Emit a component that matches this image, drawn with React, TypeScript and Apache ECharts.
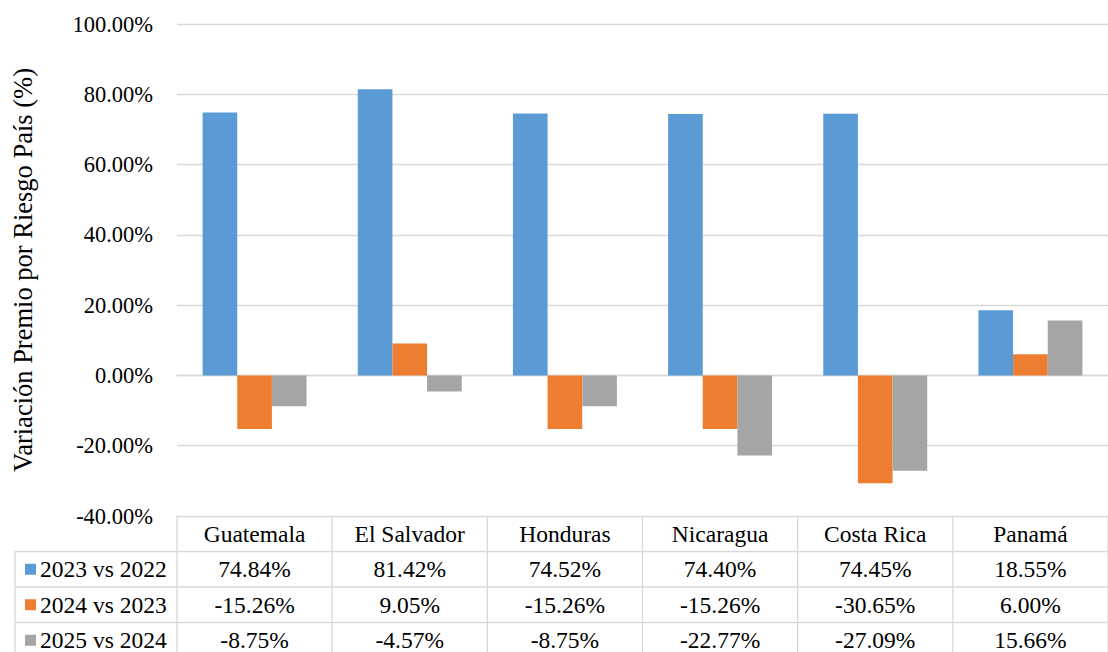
import React, { useEffect, useRef } from "react";
import * as echarts from "echarts";

const categories = ["Guatemala", "El Salvador", "Honduras", "Nicaragua", "Costa Rica", "Panamá"];
const seriesNames = ["2023 vs 2022", "2024 vs 2023", "2025 vs 2024"];
const values2023 = [74.84, 81.42, 74.52, 74.4, 74.45, 18.55];
const values2024 = [-15.26, 9.05, -15.26, -15.26, -30.65, 6.0];
const values2025 = [-8.75, -4.57, -8.75, -22.77, -27.09, 15.66];
const yMin = -40;
const yMax = 100;
const yStep = 20;
const colors = ["#5B9BD5", "#ED7D31", "#A5A5A5"];

const FONT = "Liberation Serif";
const LINE = "#D9D9D9";

export default function App() {
  const ref = useRef<HTMLDivElement>(null);
  useEffect(() => {
    if (!ref.current) return;
    const chart = echarts.init(ref.current, undefined, { renderer: "svg" });
    const allSeries = [values2023, values2024, values2025];
    chart.setOption({
      animation: false,
      textStyle: { fontFamily: FONT },
      grid: { left: 177, top: 24, width: 942, height: 492, containLabel: false },
      xAxis: {
        type: "category",
        data: categories,
        axisLine: { show: true, onZero: true, lineStyle: { color: LINE, width: 1.3 } },
        axisTick: { show: false },
        axisLabel: { show: false },
      },
      yAxis: {
        type: "value",
        min: yMin,
        max: yMax,
        interval: yStep,
        name: "Variación Premio por Riesgo País (%)",
        nameLocation: "middle",
        nameGap: 141,
        nameTextStyle: { fontFamily: FONT, fontSize: 26.5, color: "#000" },
        axisLine: { show: false },
        axisTick: { show: false },
        axisLabel: {
          margin: 24,
          fontFamily: FONT,
          fontSize: 22.5,
          color: "#000",
          formatter: (v: number) => v.toFixed(2) + "%",
        },
        splitLine: { lineStyle: { color: LINE, width: 1.3 } },
      },
      series: allSeries.map((d, i) => ({
        type: "bar",
        name: seriesNames[i],
        data: d,
        barGap: "0%",
        barCategoryGap: "33%",
        itemStyle: { color: colors[i] },
      })),
    });

    // Data table built from the axis scale positions
    const centers = categories.map((_, i) => chart.convertToPixel({ xAxisIndex: 0 }, i) as number);
    const band = centers.length > 1 ? centers[1] - centers[0] : 157;
    const tableTop = chart.convertToPixel({ yAxisIndex: 0 }, yMin) as number;
    const plotLeft = centers[0] - band / 2;
    const plotRight = centers[centers.length - 1] + band / 2;
    const rowH = 35.5;
    const tableLeft = 15;
    const bottom = 700;
    const g: any[] = [];
    const line = (x1: number, y1: number, x2: number, y2: number) =>
      g.push({ type: "line", shape: { x1, y1, x2, y2 }, style: { stroke: LINE, lineWidth: 1.3 } });
    for (let r = 1; r <= 4; r++) line(tableLeft, tableTop + rowH * r, plotRight, tableTop + rowH * r);
    line(tableLeft, tableTop + rowH, tableLeft, bottom);
    line(plotLeft, tableTop, plotLeft, bottom);
    centers.forEach((c) => line(c + band / 2, tableTop, c + band / 2, bottom));
    const txt = (x: number, y: number, s: string, align: string) =>
      g.push({
        type: "text",
        x,
        y,
        style: { text: s, fontFamily: FONT, fontSize: 23.5, fill: "#000", align, verticalAlign: "middle" },
      });
    centers.forEach((c, i) => txt(c, tableTop + rowH / 2, categories[i], "center"));
    allSeries.forEach((d, r) => {
      const cy = tableTop + rowH * (r + 1) + rowH / 2;
      g.push({
        type: "rect",
        shape: { x: 25, y: cy - 5.5, width: 11, height: 11 },
        style: { fill: colors[r] },
      });
      txt(40, cy, seriesNames[r], "left");
      d.forEach((v, i) => txt(centers[i], cy, v.toFixed(2) + "%", "center"));
    });
    chart.setOption({ graphic: g });
    return () => chart.dispose();
  }, []);
  return (
    <div style={{ fontFamily: "Liberation Serif" }}>
      <div ref={ref} style={{ position: "absolute", left: 0, top: 0, width: 1108, height: 652 }} />
    </div>
  );
}
